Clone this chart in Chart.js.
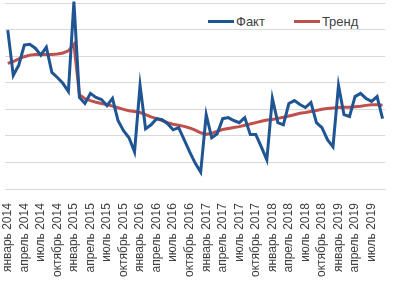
<!DOCTYPE html>
<html lang="ru">
<head>
<meta charset="utf-8">
<script src="https://cdn.jsdelivr.net/npm/chart.js@4/dist/chart.umd.min.js"></script>
<style>
  html, body { margin: 0; padding: 0; background: #fff; }
  .wrap { position: relative; width: 403px; height: 287px; }
  .legend { position: absolute; top: 14px; left: 208px; font-family: 'Liberation Sans', Arial, sans-serif;
            font-size: 13px; color: #404040; display: flex; align-items: center; background: #fff; }
  .legend span.sw { display: inline-block; width: 26px; height: 3px; margin-right: 2px; }
  .legend .item { display: flex; align-items: center; margin-right: 29px; }
</style>
</head>
<body>
<div class="wrap">
  <canvas id="c" width="403" height="287"></canvas>
  <div class="legend" id="lg"></div>
</div>
<script>
// помесячно, январь 2014 – сентябрь 2019
const MONTHS = ['январь','февраль','март','апрель','май','июнь','июль','август','сентябрь','октябрь','ноябрь','декабрь'];
const categories = [];
for (let y = 2014; y <= 2019; y++) {
  for (let m = 0; m < 12; m++) {
    if (y === 2019 && m > 8) break;
    categories.push(MONTHS[m] + ' ' + y);
  }
}

const fakt = [
  5.98, 4.28, 4.66, 5.42, 5.45, 5.30, 5.04, 5.34, 4.39, 4.20, 3.98, 3.67,
  7.05, 3.45, 3.22, 3.60, 3.45, 3.37, 3.14, 3.41, 2.58, 2.20, 1.93, 1.40,
  3.90, 2.27, 2.42, 2.65, 2.61, 2.46, 2.23, 2.31, 1.86, 1.40, 0.98, 0.64,
  2.80, 1.93, 2.08, 2.65, 2.69, 2.58, 2.50, 2.69, 2.05, 2.05, 1.59, 1.10,
  3.41, 2.50, 2.42, 3.22, 3.33, 3.18, 3.07, 3.26, 2.50, 2.31, 1.86, 1.59,
  3.90, 2.80, 2.73, 3.48, 3.60, 3.41, 3.30, 3.48, 2.65
];

const trend = [
  4.73, 4.80, 4.90, 4.98, 5.04, 5.06, 5.06, 5.06, 5.06, 5.08, 5.12, 5.20,
  5.45, 3.55, 3.40, 3.33, 3.27, 3.22, 3.18, 3.12, 3.06, 3.00, 2.95, 2.92,
  2.88, 2.80, 2.72, 2.65, 2.58, 2.50, 2.44, 2.40, 2.36, 2.30, 2.22, 2.12,
  2.06, 2.10, 2.18, 2.24, 2.28, 2.32, 2.35, 2.40, 2.45, 2.50, 2.55, 2.60,
  2.62, 2.66, 2.70, 2.75, 2.80, 2.85, 2.88, 2.92, 2.96, 3.00, 3.03, 3.05,
  3.07, 3.08, 3.08, 3.10, 3.12, 3.15, 3.17, 3.17, 3.15
];

const COLOR_FAKT = '#1f5592';
const COLOR_TREND = '#c0504d';
const GRID = '#d9d9d9';

const series = [
  { label: 'Факт', data: fakt, color: COLOR_FAKT },
  { label: 'Тренд', data: trend, color: COLOR_TREND },
];

new Chart(document.getElementById('c'), {
  type: 'line',
  data: {
    labels: categories,
    datasets: series.map(s => ({
      label: s.label, data: s.data,
      borderColor: s.color, backgroundColor: s.color,
      borderWidth: 3, pointRadius: 0, tension: 0, clip: false,
    })),
  },
  options: {
    responsive: false, animation: false,
    layout: { padding: { left: 5, right: 1, top: 3, bottom: 4 } },
    plugins: { legend: { display: false }, tooltip: { enabled: false } },
    scales: {
      x: {
        offset: true,
        grid: { display: false },
        border: { display: true, color: GRID },
        ticks: {
          autoSkip: false, maxRotation: 90, minRotation: 90, padding: 6,
          color: '#404040', font: { family: "'Liberation Sans', Arial, sans-serif", size: 12 },
          callback: (v, i) => (i % 3 === 0 ? categories[i] : ''),
        },
      },
      y: {
        min: 0, max: 7,
        grid: { color: GRID, drawTicks: false },
        border: { display: false },
        ticks: { display: false, stepSize: 1 },
      },
    },
  },
});

// легенда
const lg = document.getElementById('lg');
lg.innerHTML = series.map(s =>
  `<div class="item"><span class="sw" style="background:${s.color}"></span>${s.label}</div>`).join('');
</script>
</body>
</html>
